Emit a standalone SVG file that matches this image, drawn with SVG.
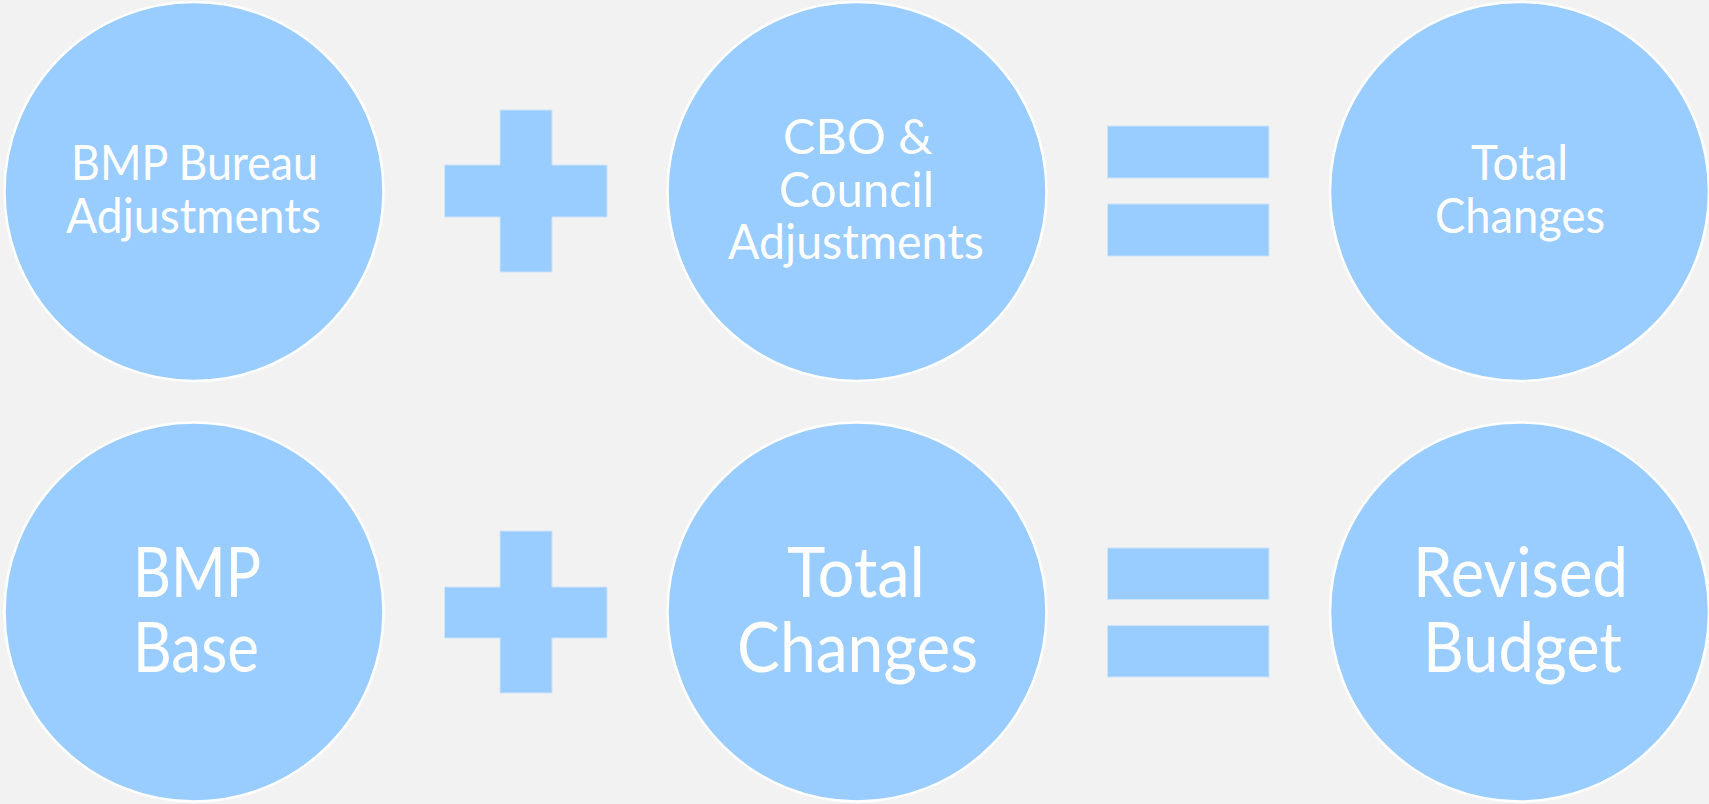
<svg xmlns="http://www.w3.org/2000/svg" width="1709" height="804" viewBox="0 0 1709 804">
  <style>
    .node { fill: #99ccff; stroke: #ffffff; stroke-width: 2.5; }
    .op { fill: #99ccff; stroke: #cfe4f8; stroke-width: 1; }
    .lbl { fill: #ffffff; font-family: Lato, "Liberation Sans", sans-serif; font-weight: 400; }
    .s { font-size: 49px; }
    .l { font-size: 70px; }
  </style>
  <rect x="0" y="0" width="1709" height="804" fill="#f2f2f2"/>

  <g id="node-bmp-bureau-adjustments">
    <circle class="node" cx="194" cy="191.5" r="189.5"/>
    <text class="lbl s" x="71" y="180" textLength="247" lengthAdjust="spacingAndGlyphs">BMP Bureau</text>
    <text class="lbl s" x="66" y="233" textLength="255" lengthAdjust="spacingAndGlyphs">Adjustments</text>
  </g>

  <g id="node-cbo-council-adjustments">
    <circle class="node" cx="857" cy="191.5" r="189.5"/>
    <text class="lbl s" x="783" y="154" textLength="150" lengthAdjust="spacingAndGlyphs">CBO &amp;</text>
    <text class="lbl s" x="779" y="207" textLength="155" lengthAdjust="spacingAndGlyphs">Council</text>
    <text class="lbl s" x="728" y="259" textLength="256" lengthAdjust="spacingAndGlyphs">Adjustments</text>
  </g>

  <g id="node-total-changes-top">
    <circle class="node" cx="1519.5" cy="191.5" r="189.5"/>
    <text class="lbl s" x="1471" y="180" textLength="97" lengthAdjust="spacingAndGlyphs">Total</text>
    <text class="lbl s" x="1435" y="233" textLength="170" lengthAdjust="spacingAndGlyphs">Changes</text>
  </g>

  <g id="node-bmp-base">
    <circle class="node" cx="194" cy="612" r="189.5"/>
    <text class="lbl l" x="133" y="597" textLength="128" lengthAdjust="spacingAndGlyphs">BMP</text>
    <text class="lbl l" x="133" y="672" textLength="126" lengthAdjust="spacingAndGlyphs">Base</text>
  </g>

  <g id="node-total-changes-bottom">
    <circle class="node" cx="857" cy="612" r="189.5"/>
    <text class="lbl l" x="787" y="597" textLength="138" lengthAdjust="spacingAndGlyphs">Total</text>
    <text class="lbl l" x="737" y="672" textLength="241" lengthAdjust="spacingAndGlyphs">Changes</text>
  </g>

  <g id="node-revised-budget">
    <circle class="node" cx="1519.5" cy="612" r="189.5"/>
    <text class="lbl l" x="1413" y="597" textLength="215" lengthAdjust="spacingAndGlyphs">Revised</text>
    <text class="lbl l" x="1423" y="672" textLength="199" lengthAdjust="spacingAndGlyphs">Budget</text>
  </g>

  <g id="connectors">
    <g id="plus-top">
      <path class="op" d="M500,110 H552 V165 H607 V217 H552 V272 H500 V217 H444.5 V165 H500 Z"/>
    </g>
    <g id="equals-top">
      <rect class="op" x="1107.5" y="126" width="161.5" height="52"/>
      <rect class="op" x="1107.5" y="204" width="161.5" height="52"/>
    </g>
    <g id="plus-bottom">
      <path class="op" d="M500,531 H552 V587 H607 V638 H552 V693 H500 V638 H444.5 V587 H500 Z"/>
    </g>
    <g id="equals-bottom">
      <rect class="op" x="1107.5" y="548" width="161.5" height="51.5"/>
      <rect class="op" x="1107.5" y="625.5" width="161.5" height="51.5"/>
    </g>
  </g>
</svg>
